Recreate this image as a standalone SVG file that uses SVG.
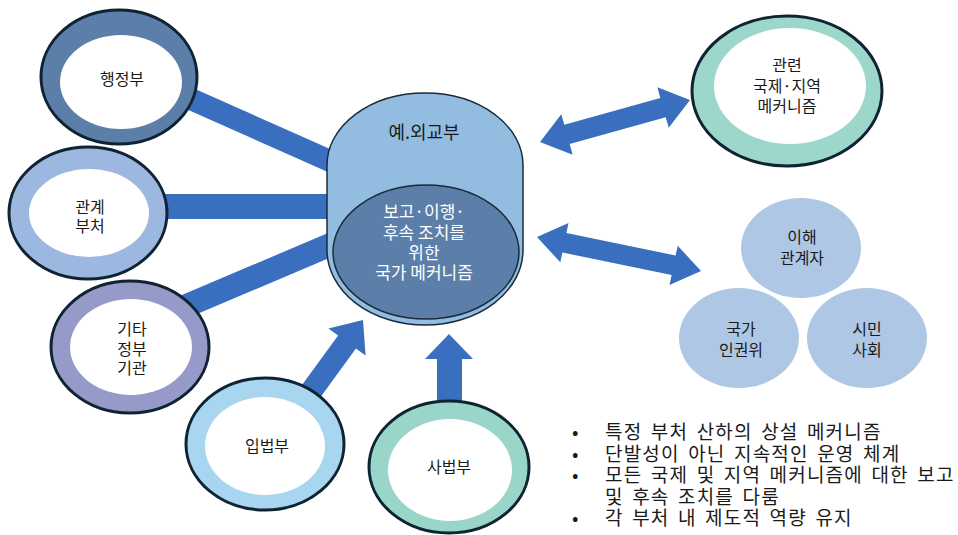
<svg xmlns="http://www.w3.org/2000/svg" width="958" height="535" viewBox="0 0 958 535">
<style>
.t{font-family:"Noto Sans CJK KR","Noto Sans",sans-serif;fill:#1a1a1a;text-anchor:middle;dominant-baseline:central}
.n{font-size:16px}
.w{fill:#ffffff;font-size:17px}
.b{font-family:"Noto Sans CJK KR","Noto Sans",sans-serif;fill:#1a1a1a;font-size:19px;dominant-baseline:central;word-spacing:3px;letter-spacing:1.2px}
.ring{stroke:#0f2333;stroke-width:3}
.inner{fill:#ffffff}
.con{fill:#3a6fc0}
.sh{fill:#adc7e4}
</style>
<rect width="958" height="535" fill="#ffffff"/>
<g id="connectors">
<polygon class="con" points="150,69 400,180 400,204 150,93"/>
<rect class="con" x="120" y="194" width="280" height="25"/>
<polygon class="con" points="150,308.6 400,202.4 400,228 150,334"/>
<polygon class="con" points="363,320 328.4,328.4 338.1,335.5 293.8,396.2 311.7,409.2 355.9,348.5 365.6,355.6"/>
<polygon class="con" points="449,334 425,359 437,359 437,410 462,410 462,359 473,359"/>
<polygon class="con" points="540,142 561.3,114.2 564.3,124.8 660.3,97.9 657.4,87.3 690,100 668.7,127.8 665.7,117.2 569.7,144.1 572.6,154.7"/>
<polygon class="con" points="537,237 568.5,223.1 566.4,232.9 675.6,255.5 677.7,245.7 701,271 669.5,284.9 671.6,275.1 562.4,252.5 560.3,262.3"/>
</g>
<g id="node-haengjeongbu">
<ellipse class="ring" cx="119" cy="77" rx="78" ry="67" fill="#5b7fa8"/>
<ellipse class="inner" cx="121" cy="82" rx="61" ry="47"/>
<text class="t n" x="122" y="78">행정부</text>
</g>
<g id="node-gwangye">
<ellipse class="ring" cx="88" cy="213" rx="79" ry="66" fill="#9cb8e0"/>
<ellipse class="inner" cx="89" cy="213" rx="60" ry="44"/>
<text class="t n" x="90" y="206">관계<tspan x="90" dy="19">부처</tspan></text>
</g>
<g id="node-gita">
<ellipse class="ring" cx="130" cy="347" rx="79" ry="66" fill="#959ac8"/>
<ellipse class="inner" cx="131" cy="347" rx="61" ry="48"/>
<text class="t n" x="132" y="328">기타<tspan x="132" dy="20">정부</tspan><tspan x="132" dy="19">기관</tspan></text>
</g>
<g id="node-ipbeopbu">
<ellipse class="ring" cx="265" cy="444" rx="79" ry="66" fill="#a8d5f0"/>
<ellipse class="inner" cx="265" cy="446" rx="60" ry="49"/>
<text class="t n" x="267" y="445">입법부</text>
</g>
<g id="node-sabeopbu">
<ellipse class="ring" cx="449" cy="467" rx="80" ry="66" fill="#99d5c9"/>
<ellipse class="inner" cx="450" cy="470" rx="62" ry="51"/>
<text class="t n" x="449" y="466">사법부</text>
</g>
<g id="node-mofa">
<path d="M327,165 A98,72 0 0 1 523,165 L523,250 A98,75 0 0 1 327,250 Z" fill="#92bde0" stroke="#1a2a3a" stroke-width="1.5"/>
<ellipse cx="426" cy="252" rx="93" ry="67" fill="#5b7fa8" stroke="#1a2a3a" stroke-width="1.5"/>
<text class="t" x="424" y="131" style="font-size:18px">예.외교부</text>
<text class="t w" x="424" y="210">보고·이행·<tspan x="424" dy="21">후속 조치를</tspan><tspan x="424" dy="20">위한</tspan><tspan x="424" dy="20">국가 메커니즘</tspan></text>
</g>
<g id="node-intl">
<ellipse class="ring" cx="787" cy="91" rx="95" ry="75" fill="#9dd6cb"/>
<ellipse class="inner" cx="790" cy="86" rx="76" ry="58"/>
<text class="t n" x="787" y="64">관련<tspan x="787" dy="21">국제·지역</tspan><tspan x="787" dy="20">메커니즘</tspan></text>
</g>
<g id="node-stakeholder">
<ellipse class="sh" cx="801" cy="248" rx="60" ry="50"/>
<text class="t n" x="802" y="236">이해<tspan x="802" dy="21">관계자</tspan></text>
</g>
<g id="node-nhrc">
<ellipse class="sh" cx="739" cy="338" rx="60" ry="50"/>
<text class="t n" x="741" y="328">국가<tspan x="741" dy="21">인권위</tspan></text>
</g>
<g id="node-civil">
<ellipse class="sh" cx="867" cy="338" rx="60" ry="50"/>
<text class="t n" x="867" y="328">시민<tspan x="867" dy="21">사회</tspan></text>
</g>
<g id="bullets">
<text class="b" x="572" y="430">•<tspan x="605">특정 부처 산하의 상설 메커니즘</tspan><tspan x="572" dy="21.5">•</tspan><tspan x="605">단발성이 아닌 지속적인 운영 체계</tspan><tspan x="572" dy="21.5">•</tspan><tspan x="605">모든 국제 및 지역 메커니즘에 대한 보고</tspan><tspan x="605" dy="21.5">및 후속 조치를 다룸</tspan><tspan x="572" dy="21.5">•</tspan><tspan x="605">각 부처 내 제도적 역량 유지</tspan></text>
</g>
</svg>
